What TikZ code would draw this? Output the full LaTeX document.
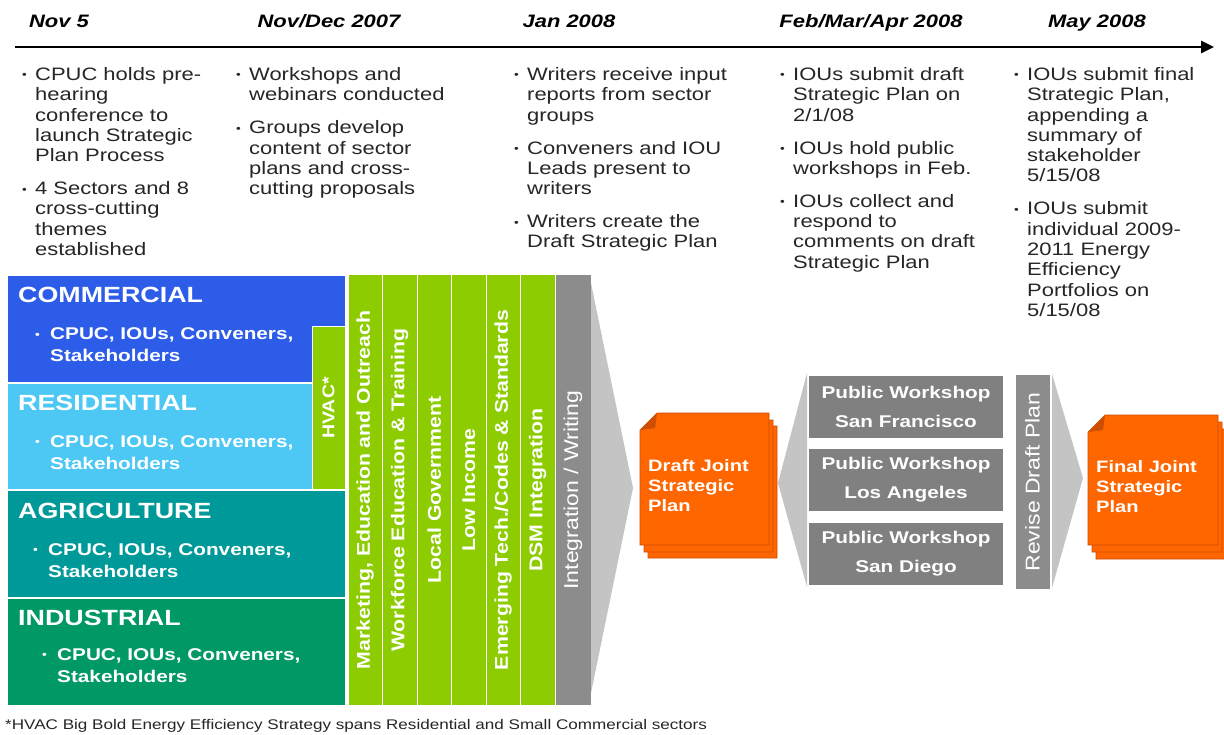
\documentclass[tikz,border=0pt]{standalone}
\usepackage{fontspec}
\setmainfont{Liberation Sans}[FakeStretch=1.22]
\newfontfamily\rotfont{Liberation Sans}[FakeStretch=1.15]
\usepackage{tikz}
\usetikzlibrary{arrows.meta,positioning}

\definecolor{commblue}{RGB}{44,92,232}
\definecolor{resblue}{RGB}{77,200,245}
\definecolor{agriteal}{RGB}{0,153,153}
\definecolor{indgreen}{RGB}{0,153,102}
\definecolor{lime}{RGB}{140,204,0}
\definecolor{bargray}{RGB}{140,140,140}
\definecolor{wsgray}{RGB}{128,128,128}
\definecolor{chevgray}{RGB}{196,196,196}
\definecolor{planorange}{RGB}{255,102,0}
\definecolor{planedge}{RGB}{205,78,0}

\newcommand\bl{\raisebox{1.5pt}{\fontsize{11}{11}\selectfont\textbullet}}

\tikzset{
  timeline/.style={line width=2.8pt, -{Triangle[length=13pt,width=12pt]}},
  month/.style={anchor=base, inner sep=0, font=\bfseries\itshape\fontsize{18}{20}\selectfont},
  steps/.style={anchor=base west, inner sep=0, text=black!85, font=\fontsize{18}{20.3}\selectfont},
  sector/.style={draw=white, line width=1.5pt, anchor=north west, inner sep=0, minimum width=339pt, minimum height=107pt},
  sectitle/.style={anchor=base west, inner sep=0, text=white, font=\bfseries\fontsize{22}{24}\selectfont},
  secbody/.style={anchor=base west, inner sep=0, text=white, font=\bfseries\fontsize{17}{22}\selectfont},
  themebar/.style={rotate=90, fill=lime, draw=white, line width=1pt, inner sep=0, minimum width=430pt, minimum height=34.5pt, text=white, font=\rotfont\bfseries\fontsize{18.5}{20}\selectfont},
  graybar/.style={rotate=90, fill=bargray, draw=white, line width=1pt, inner sep=0, text=white, font=\rotfont\fontsize{20}{22}\selectfont},
  chev/.style={fill=chevgray},
  plan/.style={fill=planorange, draw=planedge, line width=0.6pt},
  plantext/.style={anchor=west, align=left, inner sep=0, text=white, font=\bfseries\fontsize{16.5}{20}\selectfont},
  wshop/.style={fill=wsgray, inner sep=0, minimum width=194pt, minimum height=62pt, align=center, text=white, font=\bfseries\fontsize{17}{29}\selectfont},
  foot/.style={anchor=base west, inner sep=0, text=black!85, font=\fontsize{14}{15}\selectfont}
}

\begin{document}
\begin{tikzpicture}[x=1pt, y=-1pt]
  \useasboundingbox (0,0) rectangle (1224,735);
  \fill[white] (0,0) rectangle (1224,735);

  % time axis and month headers
  \coordinate (tlstart) at (15,47);
  \coordinate (tlend) at (1214,47);
  \draw[timeline] (tlstart) -- (tlend);
  \node[month] (hnov) at (59,28) {Nov 5};
  \node[month] (hdec) at (329,28) {Nov/Dec 2007};
  \node[month] (hjan) at (569,28) {Jan 2008};
  \node[month] (hfeb) at (871,28) {Feb/Mar/Apr 2008};
  \node[month] (hmay) at (1097,28) {May 2008};

  % what happens in each period
  \node[steps] (snov) at (22,80.5) {\begin{tabular}[t]{@{}p{13pt}@{}l@{}}
    \bl & CPUC holds pre-\\ & hearing\\ & conference to\\ & launch Strategic\\ & Plan Process\\[12.7pt]
    \bl & 4 Sectors and 8\\ & cross-cutting\\ & themes\\ & established
  \end{tabular}};
  \node[steps] (sdec) at (236,80.5) {\begin{tabular}[t]{@{}p{13pt}@{}l@{}}
    \bl & Workshops and\\ & webinars conducted\\[12.7pt]
    \bl & Groups develop\\ & content of sector\\ & plans and cross-\\ & cutting proposals
  \end{tabular}};
  \node[steps] (sjan) at (514,80.5) {\begin{tabular}[t]{@{}p{13pt}@{}l@{}}
    \bl & Writers receive input\\ & reports from sector\\ & groups\\[12.7pt]
    \bl & Conveners and IOU\\ & Leads present to\\ & writers\\[12.7pt]
    \bl & Writers create the\\ & Draft Strategic Plan
  \end{tabular}};
  \node[steps] (sfeb) at (780,80.5) {\begin{tabular}[t]{@{}p{13pt}@{}l@{}}
    \bl & IOUs submit draft\\ & Strategic Plan on\\ & 2/1/08\\[12.7pt]
    \bl & IOUs hold public\\ & workshops in Feb.\\[12.7pt]
    \bl & IOUs collect and\\ & respond to\\ & comments on draft\\ & Strategic Plan
  \end{tabular}};
  \node[steps] (smay) at (1014,80.5) {\begin{tabular}[t]{@{}p{13pt}@{}l@{}}
    \bl & IOUs submit final\\ & Strategic Plan,\\ & appending a\\ & summary of\\ & stakeholder\\ & 5/15/08\\[12.7pt]
    \bl & IOUs submit\\ & individual 2009-\\ & 2011 Energy\\ & Efficiency\\ & Portfolios on\\ & 5/15/08
  \end{tabular}};

  % sector blocks
  \node[sector, fill=commblue] (comm) at (6,275) {};
  \node[sector, fill=resblue, minimum width=306pt] (res) at (6,382) {};
  \node[sector, fill=agriteal, minimum height=108pt] (agri) at (6,489) {};
  \node[sector, fill=indgreen, minimum height=108pt] (ind) at (6,597) {};
  \node[themebar, minimum width=162pt, minimum height=33pt, font=\rotfont\bfseries\fontsize{17}{20}\selectfont] (hvac) at (328.5,408) {HVAC*};

  \node[sectitle] (commT) at (18,303) {COMMERCIAL};
  \node[secbody] (commB) at (35,340) {\begin{tabular}[t]{@{}p{15pt}@{}l@{}}\bl & CPUC, IOUs, Conveners,\\ & Stakeholders\end{tabular}};
  \node[sectitle] (resT) at (18,410) {RESIDENTIAL};
  \node[secbody] (resB) at (35,447) {\begin{tabular}[t]{@{}p{15pt}@{}l@{}}\bl & CPUC, IOUs, Conveners,\\ & Stakeholders\end{tabular}};
  \node[sectitle] (agriT) at (18,518) {AGRICULTURE};
  \node[secbody] (agriB) at (33,555) {\begin{tabular}[t]{@{}p{15pt}@{}l@{}}\bl & CPUC, IOUs, Conveners,\\ & Stakeholders\end{tabular}};
  \node[sectitle] (indT) at (18,625) {INDUSTRIAL};
  \node[secbody] (indB) at (42,660) {\begin{tabular}[t]{@{}p{15pt}@{}l@{}}\bl & CPUC, IOUs, Conveners,\\ & Stakeholders\end{tabular}};

  % cross-cutting themes
  \node[themebar] (mkt) at (365.25,490) {Marketing, Education and Outreach};
  \node[themebar] (wet) at (399.75,490) {Workforce Education \& Training};
  \node[themebar] (lgov) at (434.25,490) {Local Government};
  \node[themebar] (linc) at (468.75,490) {Low Income};
  \node[themebar] (etcs) at (503.25,490) {Emerging Tech./Codes \& Standards};
  \node[themebar] (dsm) at (537.75,490) {DSM Integration};
  \node[graybar, minimum width=430pt, minimum height=36pt] (integ) at (573,490) {Integration / Writing};

  % chevrons
  \fill[chev] (591,283) -- (633,488) -- (591,693) -- cycle;
  \fill[chev] (778,483) -- (807,373) -- (807,587) -- cycle;
  \fill[chev] (1052,374) -- (1083,478) -- (1052,588) -- cycle;

  % draft plan, three sheets
  \filldraw[plan] (648,443) -- (665,426) -- (777,426) -- (777,558) -- (648,558) -- cycle;
  \filldraw[plan] (644,437) -- (661,420) -- (773,420) -- (773,552) -- (644,552) -- cycle;
  \filldraw[plan] (640,430) -- (657,413) -- (769,413) -- (769,545) -- (640,545) -- cycle;
  \fill[planedge] (640,430) -- (657,413) -- (655,428) -- cycle;
  \node[plantext] (draft) at (648,486) {Draft Joint\\Strategic\\Plan};

  % public workshops
  \node[wshop] (wssf) at (906,407) {Public Workshop\\San Francisco};
  \node[wshop] (wsla) at (906,480) {Public Workshop\\Los Angeles};
  \node[wshop] (wssd) at (906,554) {Public Workshop\\San Diego};
  \node[graybar, minimum width=214pt, minimum height=35pt] (revise) at (1032.5,482) {Revise Draft Plan};

  % final plan, three sheets
  \filldraw[plan] (1096,446) -- (1113,429) -- (1226,429) -- (1226,559) -- (1096,559) -- cycle;
  \filldraw[plan] (1092,439) -- (1109,422) -- (1222,422) -- (1222,552) -- (1092,552) -- cycle;
  \filldraw[plan] (1088,432) -- (1105,415) -- (1218,415) -- (1218,545) -- (1088,545) -- cycle;
  \fill[planedge] (1088,432) -- (1105,415) -- (1103,430) -- cycle;
  \node[plantext] (final) at (1096,487) {Final Joint\\Strategic\\Plan};

  \node[foot] (note) at (5,729) {*HVAC Big Bold Energy Efficiency Strategy spans Residential and Small Commercial sectors};
\end{tikzpicture}
\end{document}
